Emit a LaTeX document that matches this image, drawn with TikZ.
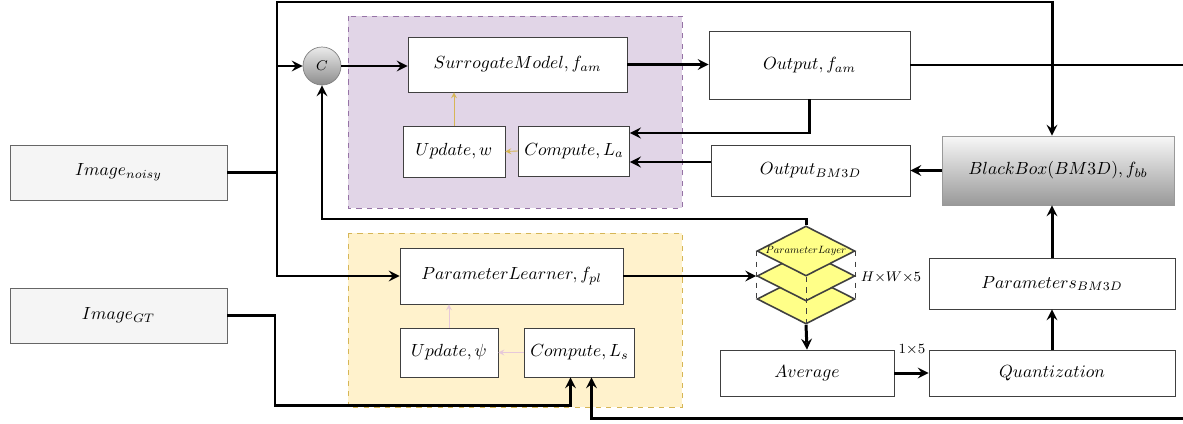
\documentclass[tikz,border=0pt]{standalone}
\usepackage{amsmath}
\usepackage{tikz}
\usetikzlibrary{arrows.meta}
\usetikzlibrary{shapes.geometric, arrows, positioning}
\usetikzlibrary{calc}
\definecolor{amFill}{HTML}{E1D5E7}
\definecolor{amDraw}{HTML}{9673A6}
\definecolor{plFill}{HTML}{FFF2CC}
\definecolor{plDraw}{HTML}{D6B656}
\definecolor{layerFill}{HTML}{FFFF88}
\definecolor{pinkLine}{HTML}{E6C8DA}
\tikzstyle{conn} = [line width=1.7pt,>=stealth]
\tikzstyle{thinconn} = [line width=0.5pt,->,>=stealth]
\tikzset{
imgbox/.style={rectangle,draw=black!60,fill=black!4,minimum width=4.34cm,minimum height=1.1cm},
procbox/.style={rectangle,draw=black!75,fill=white},
layerbox/.style={diamond,draw=black!75,fill=layerFill,line width=0.9pt,minimum width=1.96cm,minimum height=1.0cm,inner sep=0pt}
}

\begin{document}
\begin{tikzpicture}[x=0.02cm,y=-0.02cm]
\useasboundingbox (0,0) rectangle (1183,423);
%----------------------------------------------------------------------------
% Groups
\draw[amDraw,fill=amFill,dashed] (348,16) rectangle (682,208);
\draw[plDraw,fill=plFill,dashed] (348,233) rectangle (682,407);

%----------------------------------------------------------------------------
% Placement of nodes
\node (noisy) [imgbox] at (118.5,172.5) {$Image_{noisy}$};
\node (gt) [imgbox] at (118.5,315.5) {$Image_{GT}$};
\node (cat) [circle,draw=black!50,top color=black!8,bottom color=black!45,minimum size=0.76cm,inner sep=0pt] at (322,66) {\footnotesize$C$};

\node (surr) [procbox,minimum width=4.38cm,minimum height=1.1cm] at (517.5,64.5) {$SurrogateModel, f_{am}$};
\node (updw) [procbox,minimum width=2.04cm,minimum height=1.02cm] at (454,151.5) {$Update, w$};
\node (compa) [procbox,minimum width=1.96cm,minimum height=1.0cm] at (574,151) {$Compute, L_a$};

\node (outam) [procbox,minimum width=4.02cm,minimum height=1.36cm] at (809.5,65) {$Output, f_{am}$};
\node (outbm) [procbox,minimum width=3.98cm,minimum height=1.02cm] at (810.5,170.5) {$Output_{BM3D}$};
\node (bb) [rectangle,draw=black!40,top color=black!3,bottom color=black!40,minimum width=4.64cm,minimum height=1.38cm] at (1058,170.5) {$BlackBox(BM3D), f_{bb}$};

\node (pl) [procbox,minimum width=4.46cm,minimum height=1.12cm] at (511.5,276) {$ParameterLearner, f_{pl}$};
\node (updpsi) [procbox,minimum width=1.96cm,minimum height=0.98cm] at (449,352.5) {$Update, \psi$};
\node (comps) [procbox,minimum width=1.98cm,minimum height=0.98cm] at (579.5,352.5) {$Compute, L_s$};

\node (l3) [layerbox] at (806,299) {};
\node (l2) [layerbox] at (806,276) {};
\node (l1) [layerbox] at (806,251) {};
\node (l1lbl) at (l1) {\scalebox{0.6}{$ParameterLayer$}};
\node (hw) at (891,277) {\footnotesize$H{\times}W{\times}5$};

\node (avg) [procbox,minimum width=3.48cm,minimum height=0.92cm] at (807,373) {$Average$};
\node (quant) [procbox,minimum width=4.92cm,minimum height=0.92cm] at (1052,373) {$Quantization$};
\node (params) [procbox,minimum width=4.92cm,minimum height=1.02cm] at (1052,283.5) {$Parameters_{BM3D}$};
\node (vec) at (912,350) {\footnotesize$1{\times}5$};

%----------------------------------------------------------------------------
% Lines
\coordinate (split) at (277,172.5);
\coordinate (topc) at (1052,2);
\coordinate (fb) at (806,219);
\coordinate (rt) at (1200,65);
\coordinate (rb) at (1200,418);
\coordinate (gtc) at (275,405);
\path (compa.east) ++(0,-18) coordinate (la1);
\path (compa.east) ++(0,11) coordinate (la2);
\path (comps.south) ++(-9,0) coordinate (ls1);
\path (comps.south) ++(12,0) coordinate (ls2);

\draw[conn] (noisy.east) -- (split);
\draw[conn,->] (split) |- (cat.west);
\draw[conn,->] (split) |- (pl.west);
\draw[conn,->] (split) |- (topc) -- (topc |- bb.north);
\draw[conn,->] (cat.east) -- (cat.east -| surr.west);
\draw[conn,->] (surr.east) -- (surr.east -| outam.west);
\draw[conn,->] (outam.south) |- (la1);
\draw[conn,->] (outbm.west |- la2) -- (la2);
\draw[conn,->] (bb.west) -- (bb.west -| outbm.east);
\draw[conn,->] (outam.east) -- (rt) -- (rb) -| (ls2);
\draw[conn,->] (gt.east) -| (gtc) -| (ls1);
\draw[conn,->] (pl.east) -- (pl.east -| l2.west);
\draw[conn,->] (l1.north) -- (fb) -| (cat.south);
\draw[conn,->] (l3.south) -- (avg.north);
\draw[conn,->] (avg.east) -- (quant.west);
\draw[conn,->] (quant.north) -- (params.south);
\draw[conn,->] (params.north) -- (params.north |- bb.south);

\draw[thinconn,plDraw] (compa.west) -- (updw.east);
\draw[thinconn,plDraw] (updw.north) -- (updw.north |- surr.south);
\draw[thinconn,pinkLine] (comps.west) -- (updpsi.east);
\draw[thinconn,pinkLine] (updpsi.north) -- (updpsi.north |- pl.south);

\draw[black!75,dashed] (l1.west) -- (l3.west);
\draw[black!75,dashed] (l1.east) -- (l3.east);
\draw[black!75,dashed] (l1.south) -- (l3.south);

\end{tikzpicture}
\end{document}
